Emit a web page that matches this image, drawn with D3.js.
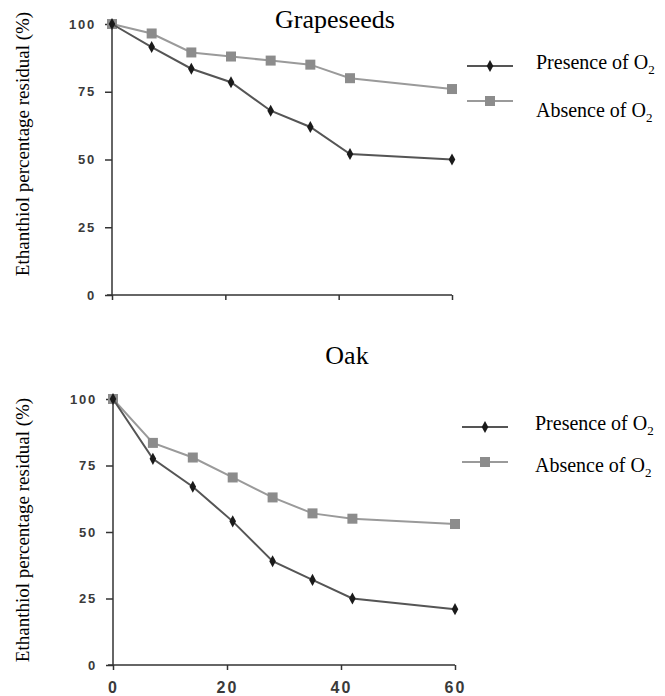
<!DOCTYPE html>
<html>
<head>
<meta charset="utf-8">
<script src="https://cdn.jsdelivr.net/npm/d3@7"></script>
<style>
  body { margin: 0; background: #fff; }
  svg { display: block; }
</style>
</head>
<body>
<svg id="chart" width="665" height="696"></svg>
<script>
// days of sampling
const days = [0, 7, 14, 21, 28, 35, 42, 60];

// grapeseeds
const grapePresence = [100, 91.5, 83.5, 78.5, 68, 62, 52, 50];
const grapeAbsence  = [100, 96.5, 89.5, 88, 86.5, 85, 80, 76];

// oak
const oakPresence = [100, 77.5, 67, 54, 39, 32, 25, 21];
const oakAbsence  = [100, 83.5, 78, 70.5, 63, 57, 55, 53];

const yTicks = [0, 25, 50, 75, 100];
const xTicks = [0, 20, 40, 60];
const seriesNames = ['Presence of O', 'Absence of O'];

const serif = '"Liberation Serif", "Times New Roman", serif';
const sans = '"Liberation Sans", Arial, sans-serif';
const svg = d3.select('#chart');

// one panel: axes, two lines, legend
function drawPanel(opts) {
  const { title, presence, absence, x0, x1, yTop, yBottom, titlePos, legend, showXLabels, labelY } = opts;

  const x = d3.scaleLinear().domain([0, 60]).range([x0, x1]);
  const y = d3.scaleLinear().domain([0, 100]).range([yBottom, yTop]);

  const g = svg.append('g');

  // y axis
  const yAxis = g.append('g')
    .attr('transform', `translate(${x0},0)`)
    .call(d3.axisLeft(y).tickValues(yTicks).tickSize(7).tickPadding(9));
  yAxis.select('.domain').attr('d', `M0,${yTop}V${yBottom}`);
  yAxis.selectAll('.tick text')
    .style('font-size', '13px')
    .style('letter-spacing', '1.8px');

  // x axis
  const xAxis = g.append('g')
    .attr('transform', `translate(0,${yBottom})`)
    .call(d3.axisBottom(x).tickValues(xTicks).tickSize(5).tickSizeOuter(0).tickPadding(12)
      .tickFormat(showXLabels ? d3.format('d') : ''));
  xAxis.select('.domain').attr('d', `M${x0 - 5},0H${x1}`);
  xAxis.selectAll('.tick text')
    .style('font-size', '16px')
    .style('letter-spacing', '2px');

  g.selectAll('.domain, .tick line')
    .attr('stroke', '#333')
    .attr('stroke-width', 1.5);
  g.selectAll('.tick text')
    .attr('fill', '#3a3a3a')
    .style('font-family', sans)
    .style('font-weight', 'bold');

  const line = d3.line()
    .x((d, i) => x(days[i]))
    .y(d => y(d));

  // absence: light gray squares
  g.append('path')
    .datum(absence)
    .attr('fill', 'none')
    .attr('stroke', '#9a9a9a')
    .attr('stroke-width', 2)
    .attr('d', line);
  g.selectAll('rect.abs')
    .data(absence)
    .join('rect')
    .attr('class', 'abs')
    .attr('x', (d, i) => x(days[i]) - 5)
    .attr('y', d => y(d) - 5)
    .attr('width', 10)
    .attr('height', 10)
    .attr('fill', '#8c8c8c');

  // presence: dark diamonds
  const diamond = d3.symbol().type(d3.symbolDiamond).size(42);
  g.append('path')
    .datum(presence)
    .attr('fill', 'none')
    .attr('stroke', '#555')
    .attr('stroke-width', 2)
    .attr('d', line);
  g.selectAll('path.pres')
    .data(presence)
    .join('path')
    .attr('class', 'pres')
    .attr('transform', (d, i) => `translate(${x(days[i])},${y(d)}) scale(0.95,1)`)
    .attr('d', diamond)
    .attr('fill', '#1a1a1a');

  // title
  g.append('text')
    .attr('x', titlePos[0])
    .attr('y', titlePos[1])
    .attr('text-anchor', 'middle')
    .style('font-family', serif)
    .style('font-size', '26px')
    .attr('fill', '#000')
    .text(title);

  // y label
  g.append('text')
    .attr('transform', `translate(22,${labelY}) rotate(-90)`)
    .attr('text-anchor', 'middle')
    .attr('dy', '0.35em')
    .style('font-family', serif)
    .style('font-size', '19px')
    .attr('fill', '#000')
    .text('Ethanthiol percentage residual (%)');

  // legend
  const items = [
    { name: seriesNames[0], color: '#555', lineY: legend.rows[0], textY: legend.text[0], marker: 'diamond' },
    { name: seriesNames[1], color: '#9a9a9a', lineY: legend.rows[1], textY: legend.text[1], marker: 'square' }
  ];
  items.forEach(it => {
    g.append('line')
      .attr('x1', legend.x).attr('x2', legend.x + 46)
      .attr('y1', it.lineY).attr('y2', it.lineY)
      .attr('stroke', it.color).attr('stroke-width', 2);
    if (it.marker === 'diamond') {
      g.append('path')
        .attr('transform', `translate(${legend.x + 23},${it.lineY}) scale(0.95,1)`)
        .attr('d', diamond)
        .attr('fill', '#1a1a1a');
    } else {
      g.append('rect')
        .attr('x', legend.x + 18).attr('y', it.lineY - 5)
        .attr('width', 10).attr('height', 10)
        .attr('fill', '#8c8c8c');
    }
    const t = g.append('text')
      .attr('x', legend.textX)
      .attr('y', it.textY)
      .style('font-family', serif)
      .style('font-size', '20px')
      .attr('fill', '#000');
    t.append('tspan').text(it.name);
    t.append('tspan').attr('dy', 5).style('font-size', '13px').text('2');
  });
}

drawPanel({
  title: 'Grapeseeds',
  presence: grapePresence,
  absence: grapeAbsence,
  x0: 112, x1: 452, yTop: 24, yBottom: 295,
  titlePos: [335, 28],
  legend: { x: 467, textX: 536, rows: [66, 101], text: [69, 117] },
  showXLabels: false,
  labelY: 144
});

drawPanel({
  title: 'Oak',
  presence: oakPresence,
  absence: oakAbsence,
  x0: 113, x1: 455, yTop: 399, yBottom: 665,
  titlePos: [347, 364],
  legend: { x: 462, textX: 535, rows: [427, 462], text: [430, 472] },
  showXLabels: true,
  labelY: 530
});
</script>
</body>
</html>
